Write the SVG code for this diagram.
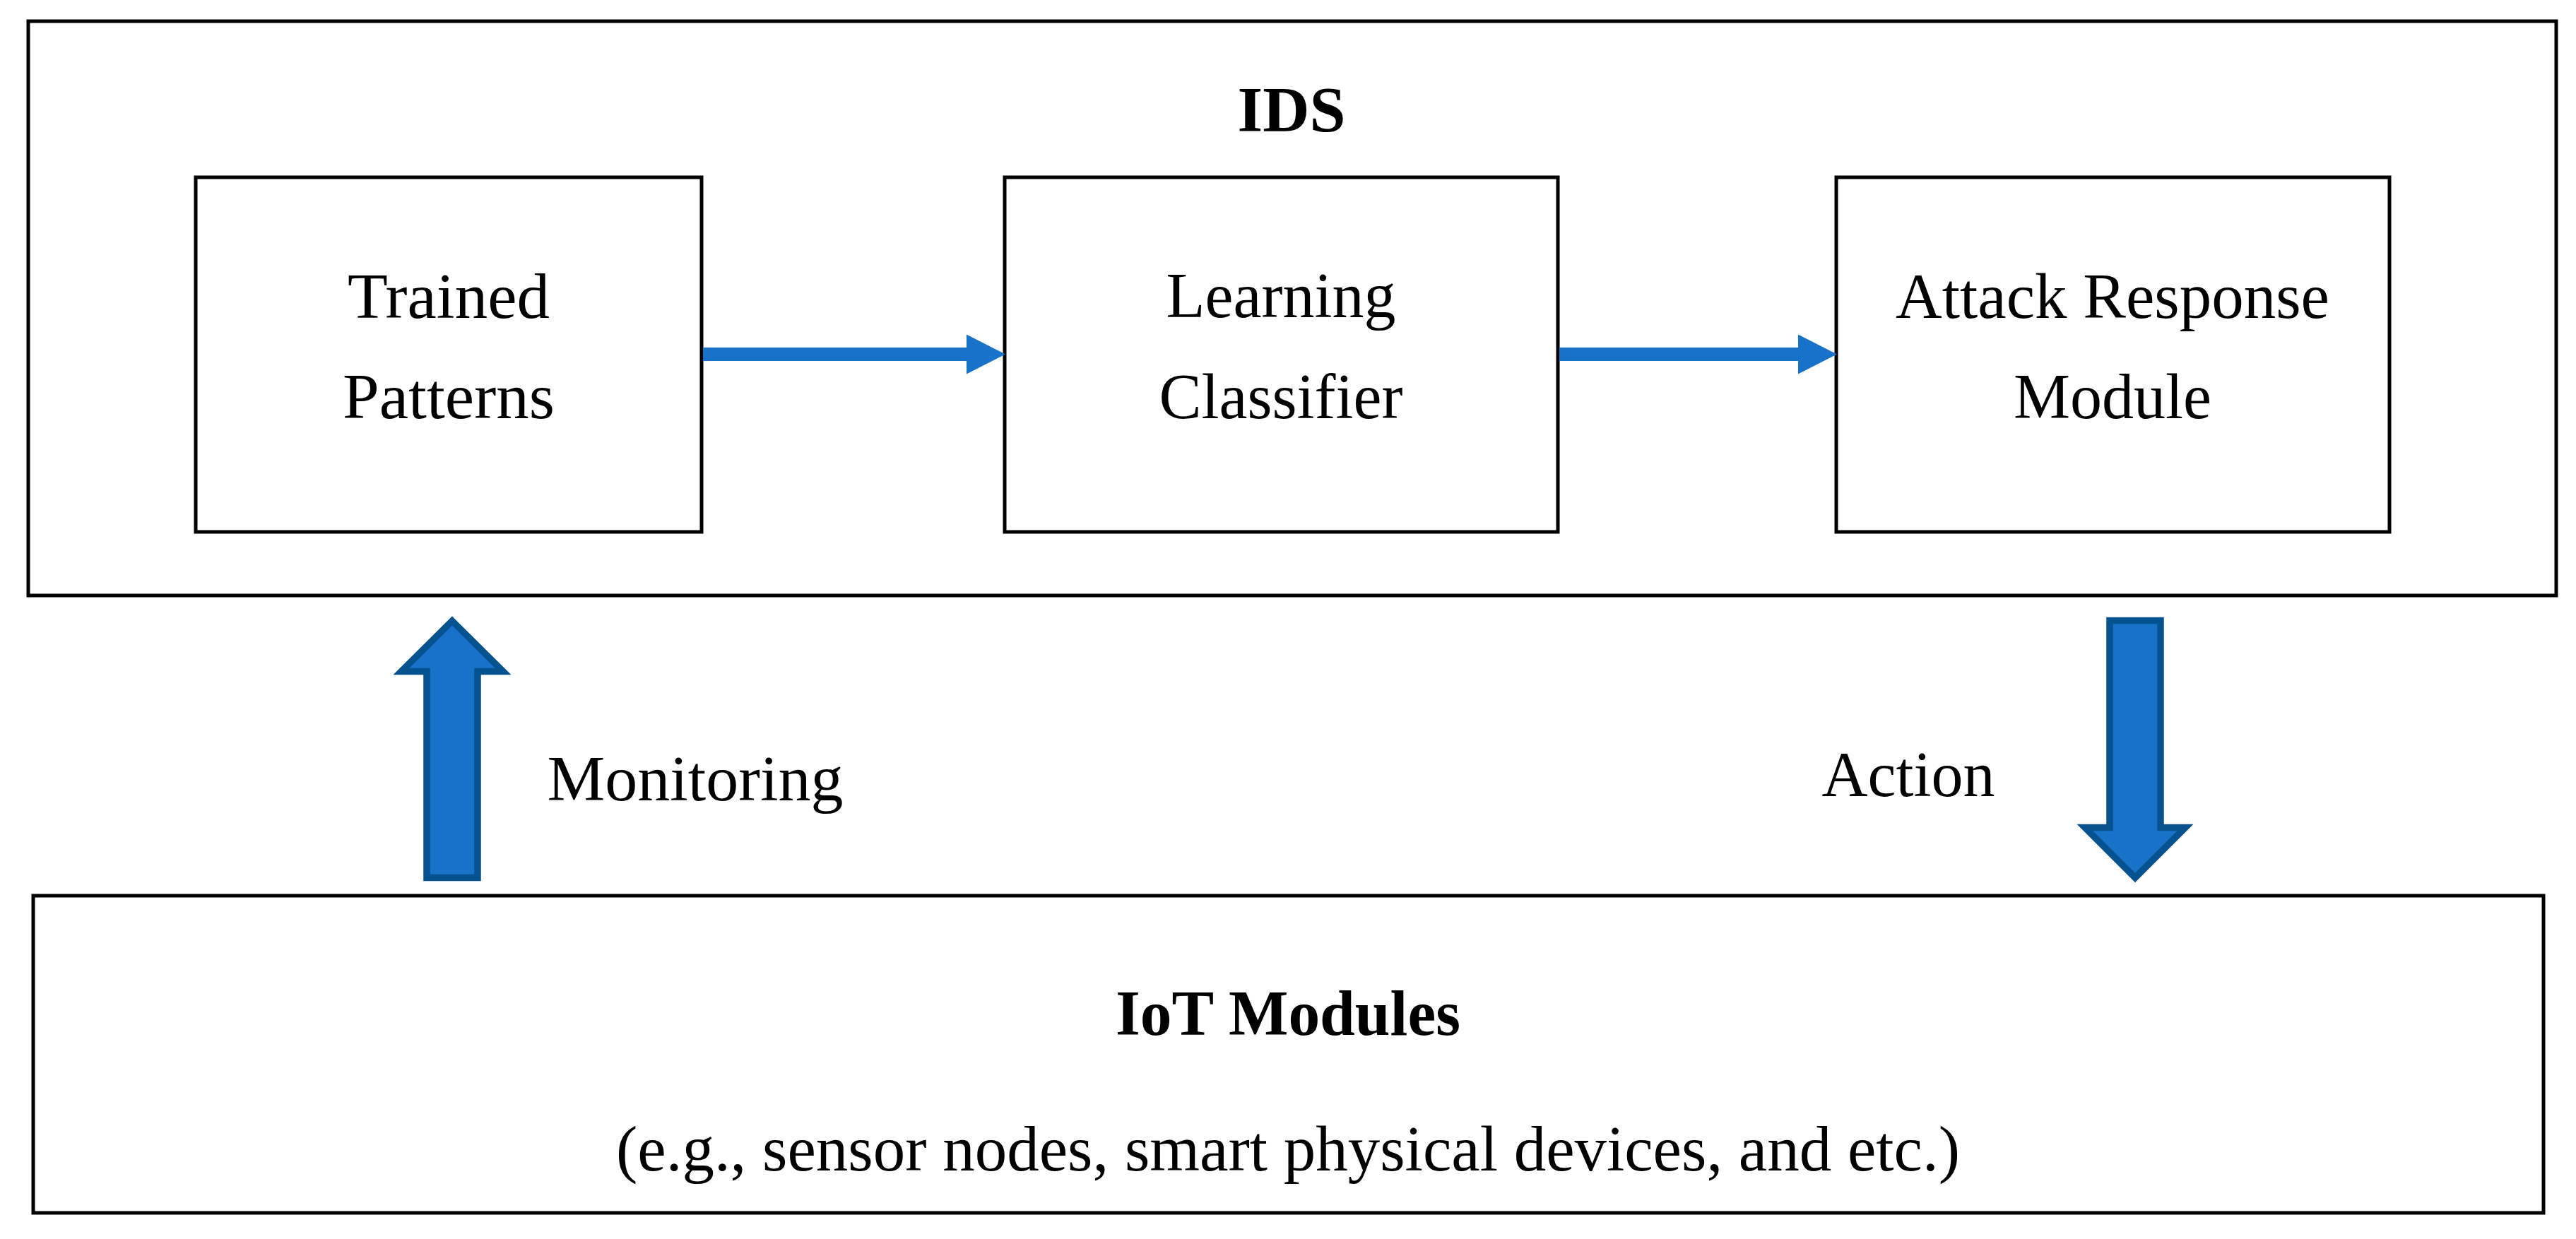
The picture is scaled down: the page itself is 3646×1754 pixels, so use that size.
<svg xmlns="http://www.w3.org/2000/svg" width="3646" height="1754" viewBox="0 0 3646 1754">
<style>
.box{fill:#ffffff;stroke:#000000;stroke-width:5}
.t{font-family:"Liberation Serif","Times New Roman",serif;font-size:90px;fill:#000000;text-anchor:middle}
.b{font-weight:bold}
.flow{stroke:#1873C8;stroke-width:19;fill:none}
.big{fill:#1873C8;stroke:#05528F;stroke-width:9.5;stroke-linejoin:miter}
</style>
<defs>
<marker id="head" markerUnits="userSpaceOnUse" markerWidth="56" markerHeight="58" refX="0" refY="28" orient="auto" overflow="visible">
<path d="M0,0 L55,28 L0,56 Z" fill="#1873C8"/>
</marker>
</defs>
<rect width="3646" height="1754" fill="#ffffff"/>
<g id="ids">
<rect class="box" x="40" y="30" width="3578" height="813"/>
<text class="t b" x="1828" y="186" textLength="153" lengthAdjust="spacingAndGlyphs">IDS</text>
</g>
<g id="trained-patterns">
<rect class="box" x="277" y="251" width="716" height="502"/>
<text class="t" x="635" y="450" textLength="286" lengthAdjust="spacingAndGlyphs">Trained</text>
<text class="t" x="635" y="592" textLength="300" lengthAdjust="spacingAndGlyphs">Patterns</text>
</g>
<g id="learning-classifier">
<rect class="box" x="1422" y="251" width="783" height="502"/>
<text class="t" x="1813" y="449">Learning</text>
<text class="t" x="1813" y="592">Classifier</text>
</g>
<g id="attack-response">
<rect class="box" x="2599" y="251" width="783" height="502"/>
<text class="t" x="2990" y="450" textLength="614" lengthAdjust="spacingAndGlyphs">Attack Response</text>
<text class="t" x="2990" y="592">Module</text>
</g>
<g id="iot-modules">
<rect class="box" x="47" y="1268" width="3553" height="449"/>
<text class="t b" x="1823" y="1465" textLength="488" lengthAdjust="spacingAndGlyphs">IoT Modules</text>
<text class="t" x="1823" y="1657" textLength="1902" lengthAdjust="spacingAndGlyphs">(e.g., sensor nodes, smart physical devices, and etc.)</text>
</g>
<g id="connectors">
<line class="flow" x1="995" y1="501.5" x2="1368" y2="501.5" marker-end="url(#head)"/>
<line class="flow" x1="2207" y1="501.5" x2="2545" y2="501.5" marker-end="url(#head)"/>
<path class="big" d="M640,879 L712,950.5 L676,950.5 L676,1242.5 L604,1242.5 L604,950.5 L568,950.5 Z"/>
<path class="big" d="M2986,878.5 L3058,878.5 L3058,1171.5 L3093,1171.5 L3022,1242.5 L2951,1171.5 L2986,1171.5 Z"/>
<text class="t" x="984" y="1133" textLength="419" lengthAdjust="spacingAndGlyphs">Monitoring</text>
<text class="t" x="2701" y="1127" textLength="245" lengthAdjust="spacingAndGlyphs">Action</text>
</g>
</svg>
